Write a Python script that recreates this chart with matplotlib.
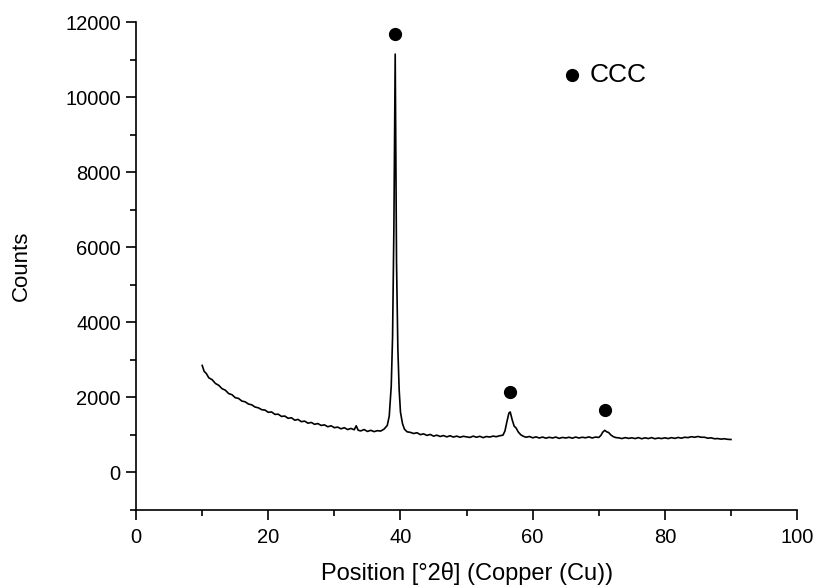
import numpy as np
import matplotlib.pyplot as plt

plt.rcParams['font.family'] = ['Liberation Sans', 'DejaVu Sans']

# diffractogram (2theta, counts)
two_theta = [10.0, 10.3, 10.6, 11.0, 11.5, 12.0, 12.5, 13.0, 13.5, 14.0, 14.5, 15.0, 15.5, 16.0, 16.5,
             17.0, 17.5, 18.0, 18.5, 19.0, 19.5, 20.0, 20.5, 21.0, 21.5, 22.0, 22.5, 23.0, 23.5,
             24.0, 24.5, 25.0, 25.5, 26.0, 26.5, 27.0, 27.5, 28.0, 28.5, 29.0, 29.5, 30.0, 30.5,
             31.0, 31.5, 32.0, 32.5, 33.0, 33.3, 33.6, 34.0, 34.5, 35.0, 35.5, 36.0, 36.5, 37.0,
             37.5, 38.0, 38.3, 38.6, 38.8, 39.0, 39.1, 39.2, 39.3, 39.4, 39.6, 39.8, 40.0, 40.3,
             40.6, 41.0, 41.5, 42.0, 42.5, 43.0, 43.5, 44.0, 44.5, 45.0, 45.5, 46.0, 46.5, 47.0,
             47.5, 48.0, 48.5, 49.0, 49.5, 50.0, 50.5, 51.0, 51.5, 52.0, 52.5, 53.0, 53.5, 54.0,
             54.5, 55.0, 55.5, 55.8, 56.1, 56.4, 56.6, 56.9, 57.2, 57.5, 57.8, 58.2, 58.6, 59.0,
             59.5, 60.0, 60.5, 61.0, 61.5, 62.0, 62.5, 63.0, 63.5, 64.0, 64.5, 65.0, 65.5, 66.0,
             66.5, 67.0, 67.5, 68.0, 68.5, 69.0, 69.5, 70.0, 70.3, 70.6, 70.9, 71.2, 71.5, 71.8,
             72.2, 72.6, 73.0, 73.5, 74.0, 74.5, 75.0, 75.5, 76.0, 76.5, 77.0, 77.5, 78.0, 78.5,
             79.0, 79.5, 80.0, 80.5, 81.0, 81.5, 82.0, 82.5, 83.0, 83.5, 84.0, 84.5, 85.0, 85.5,
             86.0, 86.5, 87.0, 87.5, 88.0, 88.5, 89.0, 89.5, 90.0]
counts = [2850, 2690, 2640, 2520, 2470, 2370, 2320, 2230, 2190, 2100, 2070, 1990, 1970, 1900, 1880,
          1820, 1800, 1740, 1720, 1670, 1660, 1600, 1610, 1545, 1550, 1490, 1500, 1440, 1455,
          1390, 1410, 1350, 1365, 1310, 1330, 1280, 1300, 1250, 1265, 1215, 1240, 1190, 1205,
          1160, 1190, 1140, 1170, 1135, 1240, 1120, 1105, 1140, 1090, 1120, 1085, 1110, 1100,
          1150, 1250, 1500, 2300, 3600, 6500, 9000, 11150, 8500, 5600, 3300, 2200, 1600, 1300,
          1150, 1080, 1065, 1035, 1055, 1005, 1025, 985, 1010, 965, 990, 955, 980, 945,
          975, 940, 965, 935, 960, 945, 930, 965, 935, 960, 925, 955, 940, 965,
          950, 975, 990, 1100, 1350, 1580, 1610, 1400, 1230, 1180, 1080, 1000, 960, 935,
          955, 920, 945, 915, 940, 910, 935, 915, 940, 905, 930, 915, 935, 910,
          940, 915, 935, 920, 945, 915, 940, 930, 980, 1070, 1120, 1080, 1060, 1000,
          950, 925, 920, 900, 925, 905, 920, 900, 925, 895, 920, 900, 925, 895,
          915, 900, 920, 900, 925, 905, 930, 910, 935, 925, 950, 935, 955, 935,
          935, 910, 920, 895, 900, 885, 895, 880, 875]

# peak markers
peak_x = [39.2, 56.5, 71.0]
peak_y = [11700, 2130, 1670]

fig, ax = plt.subplots(figsize=(8.15, 5.86), dpi=100)
fig.subplots_adjust(left=0.167, right=0.978, top=0.962, bottom=0.13)

ax.plot(two_theta, counts, color='black', lw=1.2)
ax.plot(peak_x, peak_y, 'o', color='black', ms=8.5)

ax.plot([66.0], [10600], 'o', color='black', ms=8.5)
ax.text(68.6, 10600, 'CCC', fontsize=19, va='center', ha='left')

ax.set_xlim(0, 100)
ax.set_ylim(-1000, 12000)
ax.set_xticks(np.arange(0, 101, 20))
ax.set_xticks(np.arange(10, 100, 20), minor=True)
ax.set_yticks(np.arange(0, 12001, 2000))
ax.set_yticks(np.arange(-1000, 12000, 2000), minor=True)

for s in ['top', 'right']:
    ax.spines[s].set_visible(False)
for s in ['left', 'bottom']:
    ax.spines[s].set_linewidth(1.2)

ax.tick_params(which='major', direction='out', length=7, width=1.2, labelsize=14.5, pad=4)
ax.tick_params(axis='x', which='major', pad=6)
ax.tick_params(which='minor', direction='out', length=4, width=1.2)

ax.set_xlabel('Position [°2θ] (Copper (Cu))', fontsize=17, labelpad=11)
ax.set_ylabel('Counts', fontsize=16, labelpad=24)

fig.savefig('out.png')
